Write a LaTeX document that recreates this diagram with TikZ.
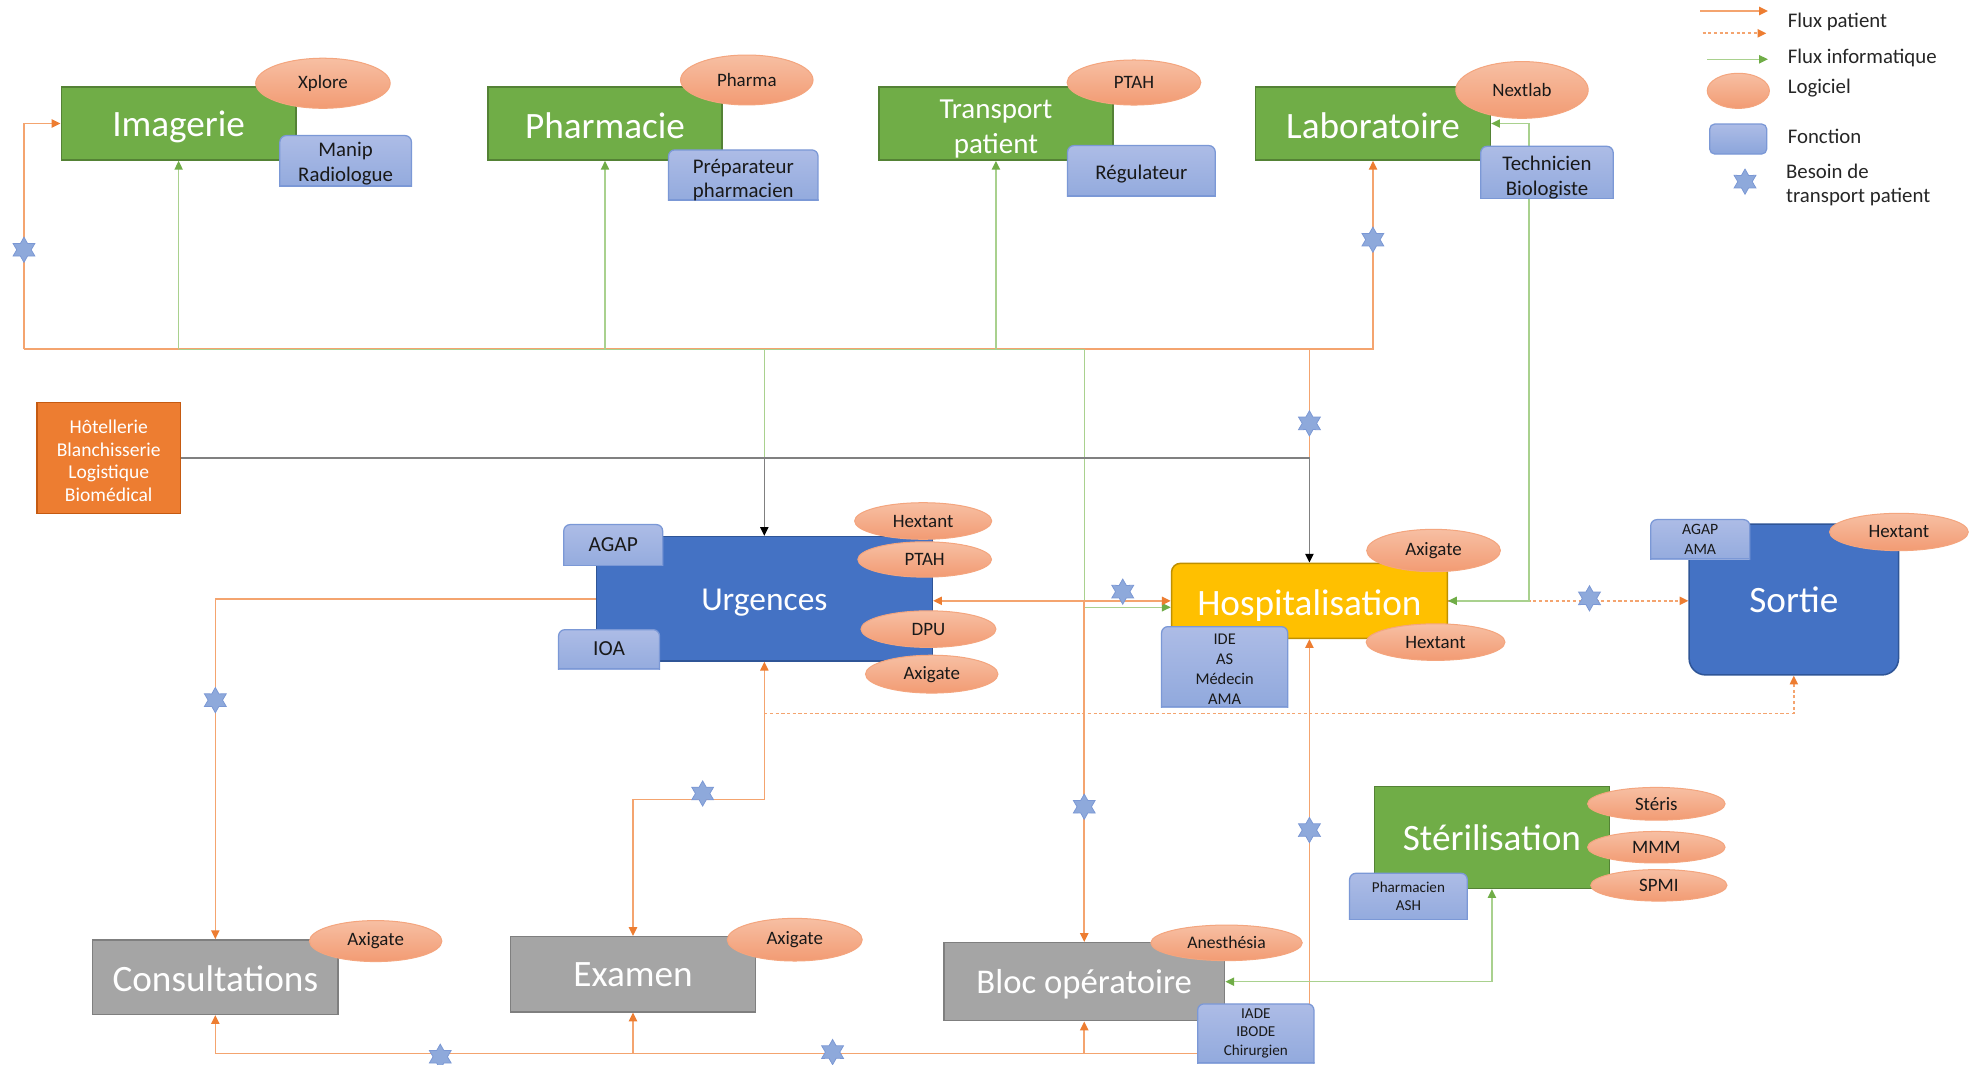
\documentclass[tikz,border=0pt]{standalone}
\usepackage{fontspec}
\setmainfont{Carlito}
\usetikzlibrary{shapes.geometric,arrows.meta,calc}
\definecolor{grn}{HTML}{70AD47}
\definecolor{grnd}{HTML}{548235}
\definecolor{blu}{HTML}{4472C4}
\definecolor{blud}{HTML}{2F5597}
\definecolor{yel}{HTML}{FFC000}
\definecolor{yeld}{HTML}{BF9000}
\definecolor{gry}{HTML}{A5A5A5}
\definecolor{gryd}{HTML}{7F7F7F}
\definecolor{org}{HTML}{ED7D31}
\definecolor{orgd}{HTML}{C55A11}
\definecolor{ellT}{HTML}{F7BFA3}
\definecolor{ellB}{HTML}{F29B73}
\definecolor{ellD}{HTML}{F4A57E}
\definecolor{fT}{HTML}{ADBCE6}
\definecolor{fB}{HTML}{8BA5DB}
\definecolor{fD}{HTML}{7B98D6}
\definecolor{starc}{HTML}{8EA9DB}
\definecolor{stard}{HTML}{7A97D4}
\definecolor{patl}{HTML}{F4A46F}
\definecolor{infl}{HTML}{A9D18E}
\definecolor{blkl}{HTML}{808080}
\definecolor{txt}{HTML}{262626}
\newcommand\lift[1]{\rule{0pt}{#1}}
\pgfdeclarelayer{back}
\pgfdeclarelayer{bg}
\pgfsetlayers{back,bg,main}
\begin{document}
\begin{tikzpicture}[x=1pt,y=-1pt,
  box/.style={rectangle, inner sep=0pt, align=center, text=white, line width=1.2pt},
  gbox/.style={box, fill=grn, draw=grnd},
  bbox/.style={box, fill=blu, draw=blud},
  ybox/.style={box, fill=yel, draw=yeld},
  greybox/.style={box, fill=gry, draw=gryd},
  obox/.style={box, fill=org, draw=orgd},
  big/.style={font=\fontsize{29.5}{32}\selectfont},
  soft/.style={ellipse, inner sep=0pt, top color=ellT, bottom color=ellB, draw=ellD, line width=0.8pt,
    font=\fontsize{15}{17}\selectfont, text=black!90},
  fonc/.style={rectangle, inner sep=0pt, align=center, text=black!90,
    path picture={
      \shadedraw[top color=fT, bottom color=fB, draw=fD, line width=1pt, rounded corners=5pt]
        ([shift={(0.5pt,-12pt)}]path picture bounding box.south west) rectangle
        ([shift={(-0.5pt,-0.5pt)}]path picture bounding box.north east);
      \draw[fD, line width=1pt] ([yshift=0.5pt]path picture bounding box.south west) --
        ([yshift=0.5pt]path picture bounding box.south east);
    }},
  hexstar/.style={star, star points=6, star point ratio=1.75, inner sep=0pt, minimum size=20pt,
    fill=starc, draw=stard, line width=0.6pt},
  legtxt/.style={anchor=west, inner sep=0pt, text=txt, font=\fontsize{16.5}{19}\selectfont, align=left},
  pat/.style={draw=patl, line width=1.3pt},
  patA/.style={pat, -{Triangle[length=7pt,width=6.5pt,color=org]}},
  patAA/.style={pat, {Triangle[length=7pt,width=6.5pt,color=org]}-{Triangle[length=7pt,width=6.5pt,color=org]}},
  patdotA/.style={pat, dash pattern=on 2.5pt off 2pt, -{Triangle[length=7pt,width=6.5pt,color=org]}},
  info/.style={draw=infl, line width=1.2pt},
  infoA/.style={info, -{Triangle[length=7pt,width=6.5pt,color=grn]}},
  infoAA/.style={info, {Triangle[length=7pt,width=6.5pt,color=grn]}-{Triangle[length=7pt,width=6.5pt,color=grn]}},
  blk/.style={draw=blkl, line width=1.3pt},
  blkA/.style={blk, -{Triangle[length=7pt,width=6.5pt,color=black]}}
]
\useasboundingbox (0,0) rectangle (1568,844);
\begin{pgfonlayer}{back}
  \fill[white] (0,0) rectangle (1568,844);
\end{pgfonlayer}

% ---------- main boxes ----------
\node[gbox, big, minimum width=186pt, minimum height=58pt] (img) at (141.6,97.9) {\lift{25pt}Imagerie};
\node[gbox, big, minimum width=185.6pt, minimum height=58pt] (pha) at (479.6,97.9) {\lift{23.2pt}Pharmacie};
\node[gbox, font=\fontsize{23}{27.7}\selectfont, minimum width=185.2pt, minimum height=58pt] (tra) at (789.5,97.9) {\lift{23pt}Transport\\patient};
\node[gbox, big, minimum width=186.1pt, minimum height=58pt] (lab) at (1088.4,97.9) {\lift{23.2pt}Laboratoire};

\node[obox, font=\fontsize{15.5}{18}\selectfont, minimum width=113.8pt, minimum height=87.8pt] (hot) at (86.2,363.1) {\lift{15.2pt}Hôtellerie\\Blanchisserie\\Logistique\\Biomédical};

\node[bbox, font=\fontsize{26.5}{30}\selectfont, minimum width=266.4pt, minimum height=98.6pt] (urg) at (605.9,474.7) {\lift{23pt}Urgences};
\node[ybox, big, rounded corners=7pt, minimum width=218.6pt, minimum height=59.4pt] (hos) at (1038,476.3) {\lift{27.2pt}Hospitalisation};
\node[bbox, big, rounded corners=13pt, minimum width=166pt, minimum height=119.6pt] (sor) at (1422,475.2) {\lift{21.5pt}Sortie};
\node[gbox, big, minimum width=186.3pt, minimum height=80.6pt] (ste) at (1182.7,663.9) {Stérilisation};

\node[greybox, big, minimum width=194.7pt, minimum height=59pt] (con) at (170.7,774.6) {\lift{23.2pt}Consultations};
\node[greybox, big, minimum width=194.5pt, minimum height=59.5pt] (exa) at (501.8,772.3) {Examen};
\node[greybox, font=\fontsize{27.5}{30}\selectfont, minimum width=222.5pt, minimum height=61.8pt] (blo) at (859.5,778.2) {\lift{23.8pt}Bloc opératoire};

% ---------- software ellipses ----------
\node[soft, minimum width=106.6pt, minimum height=39.7pt] (xpl) at (256,66) {Xplore};
\node[soft, minimum width=105pt, minimum height=39.6pt] (phm) at (592,63.4) {Pharma};
\node[soft, minimum width=106pt, minimum height=35.7pt] (pta) at (898.9,65.4) {PTAH};
\node[soft, minimum width=105pt, minimum height=45pt] (nxl) at (1206.5,71.3) {Nextlab};

\node[soft, minimum width=108.7pt, minimum height=29pt] (uhx) at (731.8,413) {Hextant};
\node[soft, minimum width=106pt, minimum height=28pt] (upt) at (733,443.5) {PTAH};
\node[soft, minimum width=107pt, minimum height=29pt] (udp) at (736,498.7) {DPU};
\node[soft, minimum width=105pt, minimum height=30pt] (uax) at (738.6,534.4) {Axigate};

\node[soft, minimum width=106pt, minimum height=33.6pt] (hax) at (1136.4,436.4) {Axigate};
\node[soft, minimum width=110pt, minimum height=29pt] (hhx) at (1138,509) {Hextant};
\node[soft, minimum width=110pt, minimum height=29.6pt] (shx) at (1505.3,421.7) {Hextant};

\node[soft, minimum width=109pt, minimum height=26pt] (sts) at (1313,637.2) {Stéris};
\node[soft, minimum width=109pt, minimum height=25pt] (stm) at (1313,671.6) {MMM};
\node[soft, minimum width=108pt, minimum height=25pt] (stp) at (1315,701.8) {SPMI};

\node[soft, minimum width=105pt, minimum height=32.5pt] (cax) at (297.8,746) {Axigate};
\node[soft, minimum width=107pt, minimum height=33.8pt] (eax) at (630,744.9) {Axigate};
\node[soft, font=\fontsize{14}{16}\selectfont, minimum width=120pt, minimum height=28.2pt] (ban) at (972.3,747.4) {Anesthésia};

% ---------- function boxes ----------
\node[fonc, font=\fontsize{16.5}{19.8}\selectfont, minimum width=105.3pt, minimum height=41pt] (fmr) at (274,127.5) {\lift{16.2pt}Manip\\Radiologue};
\node[fonc, font=\fontsize{16.5}{19}\selectfont, minimum width=119.5pt, minimum height=39.6pt] (fpp) at (589.2,138.7) {\lift{19.1pt}Préparateur\\pharmacien};
\node[fonc, font=\fontsize{16.5}{19}\selectfont, minimum width=118pt, minimum height=41pt] (frg) at (904.8,135.4) {\lift{15.9pt}Régulateur};
\node[fonc, font=\fontsize{16.5}{19.5}\selectfont, minimum width=106pt, minimum height=39.6pt] (ftb) at (1226.3,136.6) {\lift{19.9pt}Technicien\\Biologiste};
\node[fonc, font=\fontsize{17}{19}\selectfont, minimum width=79.4pt, minimum height=33.3pt] (fag) at (486.1,432) {AGAP};
\node[fonc, font=\fontsize{17}{19}\selectfont, minimum width=81pt, minimum height=31.7pt] (fio) at (482.8,514.5) {IOA};
\node[fonc, font=\fontsize{13}{16}\selectfont, minimum width=101pt, minimum height=64.5pt] (fid) at (970.8,528.5) {\lift{12.4pt}IDE\\AS\\Médecin\\AMA};
\node[fonc, font=\fontsize{12.5}{16}\selectfont, minimum width=79.6pt, minimum height=32pt] (fsa) at (1347.8,427.4) {AGAP\\AMA};
\node[fonc, font=\fontsize{12}{14.2}\selectfont, minimum width=94.3pt, minimum height=37.5pt] (fph) at (1116.5,710.5) {Pharmacien\\ASH};
\node[fonc, font=\fontsize{12}{14.4}\selectfont, minimum width=93.2pt, minimum height=47.6pt] (fia) at (995.5,819.1) {IADE\\IBODE\\Chirurgien};

% ---------- legend ----------
\coordinate (l1a) at (1348,8.7);
\coordinate (l1b) at (1401.5,8.7);
\coordinate (l2a) at (1349.6,26.4);
\coordinate (l2b) at (1400.2,26.4);
\coordinate (l3a) at (1353.5,47);
\coordinate (l3b) at (1401.5,47);
\draw[patA] (l1a) -- (l1b);
\draw[patdotA] (l2a) -- (l2b);
\draw[infoA] (l3a) -- (l3b);
\node[legtxt] (lt1) at (1417,17.2) {Flux patient};
\node[legtxt] (lt3) at (1417,46.2) {Flux informatique};
\node[soft, minimum width=49.3pt, minimum height=27.8pt] (lsoft) at (1378,72) {};
\node[legtxt] (lt4) at (1417,70) {Logiciel};
\node[rectangle, rounded corners=4pt, top color=fT, bottom color=fB, draw=fD, line width=1pt,
      minimum width=45.2pt, minimum height=23.8pt, inner sep=0pt] (lfonc) at (1377.9,110.2) {};
\node[legtxt] (lt5) at (1417,107.8) {Fonction};
\node[hexstar] (lstar) at (1383.3,144) {};
\node[legtxt] (lt6) at (1415.7,146.4) {Besoin de\\transport patient};

% ---------- connectors ----------
\begin{pgfonlayer}{bg}
  \coordinate (busL) at (18.9,276.9);
  \coordinate (gturn) at (859.5,481.4);
  \coordinate (ue) at (501.8,633.7);
  \coordinate (dotS) at (605.9,565.5);
  \coordinate (bb) at (170.7,835);
  \coordinate (gr) at (1212,97.9);
  % patient flows, top
  \draw[patA] (busL) |- (img.west);
  \draw[patA] (busL) -| (lab.south);
  \draw[pat] (hos.north |- busL) -- (hos.north |- hot.east);
  % informatic flows, top
  \draw[infoA] (img.south |- busL) -- (img.south);
  \draw[infoA] (pha.south |- busL) -- (pha.south);
  \draw[infoA] (tra.south |- busL) -- (tra.south);
  \draw[infoA] (img.south |- busL) -| (gturn) -- (gturn -| hos.west);
  \draw[info] (urg.north |- busL) -- (urg.north |- hot.east);
  % logistics
  \draw[blkA] (hot.east) -| (hos.north);
  \draw[blkA] (urg.north |- hot.east) -- (urg.north);
  % Urgences
  \draw[patAA] (hos.west -| urg.east) -- (hos.west);
  \draw[patA] (blo.north |- hos.west) -- (blo.north);
  \draw[patA] (urg.west) -| (con.north);
  \draw[patAA] (urg.south) |- (ue) -- (exa.north);
  \draw[patdotA] (dotS) -| (sor.south);
  % bottom bus
  \draw[patA] (bb) -| (hos.south);
  \draw[patA] (bb) -- (con.south);
  \draw[patA] (exa.south |- bb) -- (exa.south);
  \draw[patA] (blo.south |- bb) -- (blo.south);
  % right side
  \draw[patdotA] (hos.east) -- (hos.east -| sor.west);
  \draw[infoAA] (lab.east) -- (gr) |- (hos.east);
  \draw[infoAA] (ste.south) |- (blo.east);
\end{pgfonlayer}

% ---------- transport needs ----------
\node[hexstar] (s1) at (19,198) {};
\node[hexstar] (s2) at (1088.3,190) {};
\node[hexstar] (s3) at (1038,335.6) {};
\node[hexstar] (s4) at (890,469) {};
\node[hexstar] (s5) at (1260,474.3) {};
\node[hexstar] (s6) at (170.7,555) {};
\node[hexstar] (s7) at (557,629) {};
\node[hexstar] (s8) at (859.5,639.5) {};
\node[hexstar] (s9) at (1038,658) {};
\node[hexstar] (s10) at (349,837.7) {};
\node[hexstar] (s11) at (660,834) {};
\end{tikzpicture}
\end{document}
